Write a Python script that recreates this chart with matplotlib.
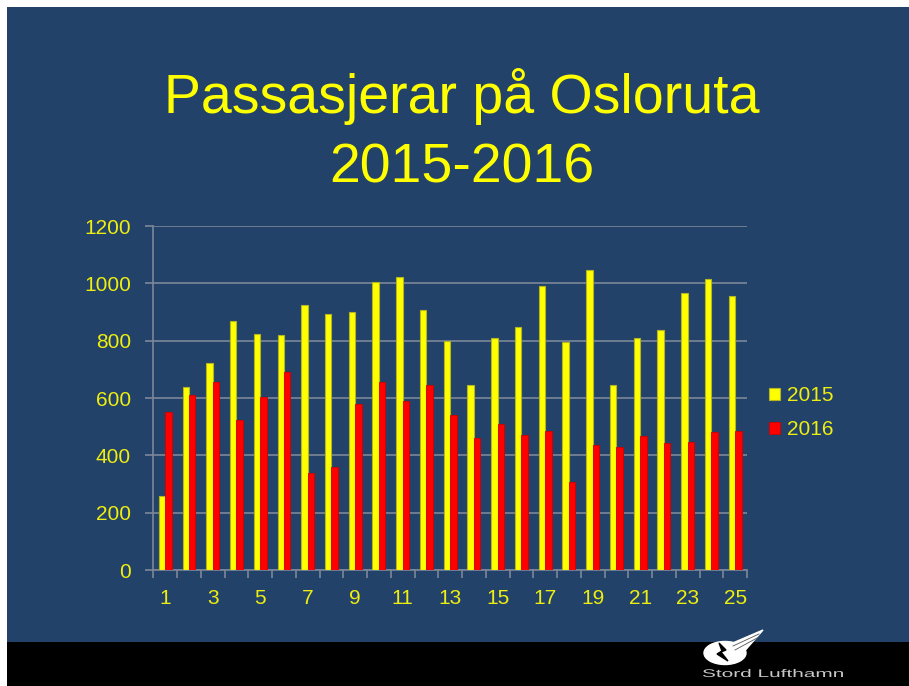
import matplotlib
matplotlib.use("Agg")
import matplotlib.pyplot as plt
from matplotlib.patches import Ellipse, Polygon, Rectangle, PathPatch
from matplotlib.textpath import TextPath
from matplotlib.font_manager import FontProperties
from matplotlib.transforms import Affine2D

plt.rcParams['font.family'] = ['Liberation Sans', 'DejaVu Sans']

# Data
periods = list(range(1, 26))
pax_2015 = [258, 639, 721, 868, 824, 821, 924, 893, 900, 1004, 1022, 908,
            798, 646, 809, 848, 990, 795, 1047, 646, 811, 838, 968, 1016, 955]
pax_2016 = [552, 610, 657, 523, 602, 689, 337, 361, 580, 657, 590, 646,
            539, 460, 510, 470, 484, 308, 437, 428, 467, 444, 447, 480, 484]
tick_labels = [str(p) for p in periods if p % 2 == 1]
series_names = ['2015', '2016']

bg = '#234269'
txt = '#EEEE10'
grid = '#7d8799'

W, H = 909, 686
fig = plt.figure(figsize=(W / 100, H / 100), dpi=100)
fig.patch.set_facecolor('white')

# slide background (white border at top and left, black strip at bottom)
fig.patches.append(Rectangle((7 / W, 0), 1, 1 - 7 / H, transform=fig.transFigure,
                             facecolor=bg, edgecolor='none', zorder=-10))
fig.patches.append(Rectangle((7 / W, 0), 1, 44 / H, transform=fig.transFigure,
                             facecolor='black', edgecolor='none', zorder=-9))

fig.text(462 / W, 1 - 113 / H, 'Passasjerar på Osloruta', color='#FFFF00',
         fontsize=40, ha='center', va='baseline')
fig.text(462 / W, 1 - 182 / H, '2015-2016', color='#FFFF00',
         fontsize=40, ha='center', va='baseline')

ax = fig.add_axes([153.3 / W, (H - 570) / H, (747 - 153.3) / W, (570 - 226) / H])
ax.set_facecolor('none')

w = 0.27
x15 = [p - w / 2 for p in periods]
x16 = [p + w / 2 for p in periods]
ax.bar(x15, pax_2015, width=w, color='#FFFF00', edgecolor='#b5b520',
       linewidth=0.8, label=series_names[0], zorder=3)
ax.bar(x16, pax_2016, width=w, color='#FF0000', edgecolor='#d00000',
       linewidth=0.6, label=series_names[1], zorder=3)

ax.set_xlim(0.5, 25.5)
ax.set_ylim(0, 1200)
ax.set_yticks(range(0, 1201, 200))
ax.yaxis.grid(True, color=grid, linewidth=1.2, zorder=0)
ax.tick_params(axis='y', colors=grid, length=6, width=1.2, pad=10,
               labelcolor=txt, labelsize=15)

# tick marks between categories, labels on odd categories
ax.set_xticks([p - 0.5 for p in periods] + [25.5])
ax.set_xticklabels([])
ax.tick_params(axis='x', which='major', colors=grid, length=6, width=1.2)
ax.set_xticks([p for p in periods if p % 2 == 1], minor=True)
ax.set_xticklabels(tick_labels, minor=True)
ax.tick_params(axis='x', which='minor', length=0, pad=14,
               labelcolor=txt, labelsize=15)

for s in ['top', 'right']:
    ax.spines[s].set_visible(False)
for s in ['left', 'bottom']:
    ax.spines[s].set_color(grid)
    ax.spines[s].set_linewidth(1.2)

leg = ax.legend(loc='center left', bbox_to_anchor=(1.019, 0.457), frameon=False,
                fontsize=15, handlelength=0.55, handleheight=0.55, borderpad=0,
                handletextpad=0.35, labelspacing=0.72, labelcolor=txt)

# small logo in the bottom strip
lax = fig.add_axes([0, 0, 1, 1], facecolor='none')
lax.set_xlim(0, W)
lax.set_ylim(H, 0)
lax.axis('off')
lax.add_patch(Ellipse((725, 653), 42, 23, color='white'))
lax.add_patch(Polygon([[728, 645], [763, 630], [742, 654]], color='white'))
lax.plot([733, 759], [646, 634], color='#555555', lw=0.6)
lax.plot([735, 757], [650, 638], color='#555555', lw=0.6)
lax.add_patch(Polygon([[719, 643], [726, 650], [721, 652], [728, 661],
                       [717, 654], [722, 651]], color='black'))
tp = TextPath((0, 0), 'Stord Lufthamn', size=10,
              prop=FontProperties(family='Liberation Sans'))
ext = tp.get_extents()
sx = 140 / ext.width
sy = 8 / 7.2
lax.add_patch(PathPatch(tp, color='#c8c8c8', lw=0,
                        transform=Affine2D().scale(sx, -sy).translate(702, 677)
                        + lax.transData))

fig.savefig('out.png', dpi=100)
